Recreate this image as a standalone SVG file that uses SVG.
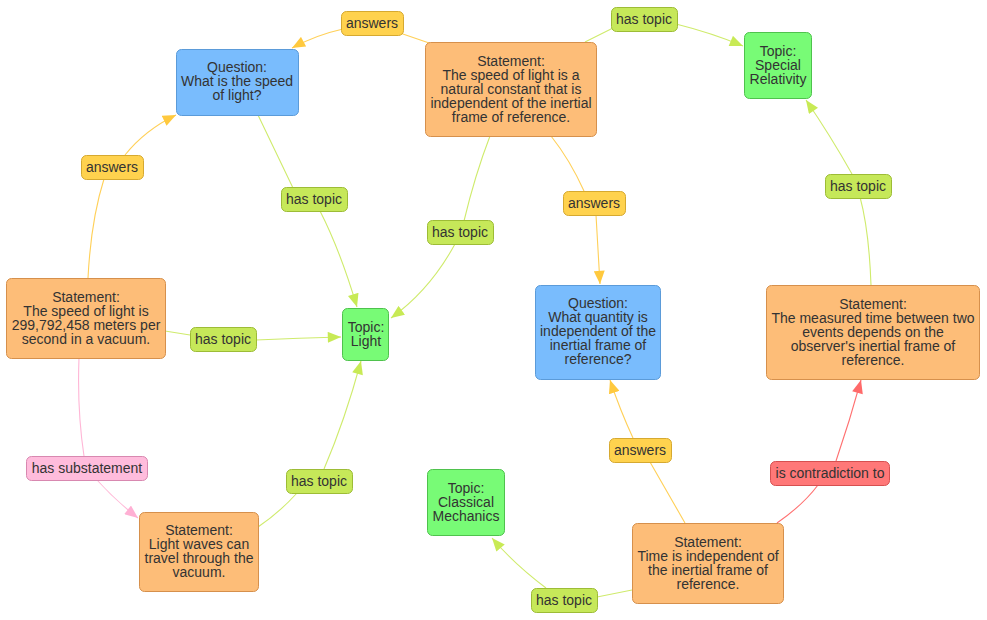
<svg xmlns="http://www.w3.org/2000/svg" width="987" height="620" viewBox="0 0 987 620">
<defs>
<style>
text{font-family:"Liberation Sans",Arial,sans-serif;font-size:14px;fill:#333;text-anchor:middle}
.q rect{fill:#79bcfd;stroke:#5b9bd9}
.s rect{fill:#fdbd78;stroke:#d6904c}
.t rect{fill:#78fb76;stroke:#4fc24d}
.ly rect{fill:#ffd24e;stroke:#d6a930}
.lg rect{fill:#c6e859;stroke:#9dbc36}
.lp rect{fill:#ffbcdc;stroke:#d888b0}
.lr rect{fill:#ff7878;stroke:#d65050}
#edges path{fill:none;stroke-width:1.1}
.ey{stroke:#ffd058;marker-end:url(#ay)}
.eg{stroke:#cfeb6c;marker-end:url(#ag)}
.ep{stroke:#ffb6d6;marker-end:url(#ap)}
.er{stroke:#ff7070;marker-end:url(#ar)}
</style>
<marker id="ay" viewBox="0 0 12 10" refX="12" refY="5" markerWidth="14" markerHeight="11" markerUnits="userSpaceOnUse" orient="auto"><path d="M0,0 L12,5 L0,10 z" fill="#ffc93e"/></marker>
<marker id="ag" viewBox="0 0 12 10" refX="12" refY="5" markerWidth="14" markerHeight="11" markerUnits="userSpaceOnUse" orient="auto"><path d="M0,0 L12,5 L0,10 z" fill="#c8ea55"/></marker>
<marker id="ap" viewBox="0 0 12 10" refX="12" refY="5" markerWidth="14" markerHeight="11" markerUnits="userSpaceOnUse" orient="auto"><path d="M0,0 L12,5 L0,10 z" fill="#ffb0d4"/></marker>
<marker id="ar" viewBox="0 0 12 10" refX="12" refY="5" markerWidth="14" markerHeight="11" markerUnits="userSpaceOnUse" orient="auto"><path d="M0,0 L12,5 L0,10 z" fill="#ff6a6a"/></marker>
</defs>
<rect width="987" height="620" fill="#fff"/>
<g id="edges">
<path class="ey" d="M432,44 L400,33 M343,29 Q316,35 292,48"/>
<path class="eg" d="M585,42 L613,28 M676,24 Q712,33 743,46"/>
<path class="ey" d="M88,278 Q91,220 104,179 M125,155 Q145,130 176,115"/>
<path class="eg" d="M258,115 L293,188 M320,211 Q340,250 357,307"/>
<path class="eg" d="M490,136 Q475,175 464,221 M455,244 Q430,290 391,318"/>
<path class="ey" d="M551,136 Q570,160 584,191 M596,215 Q598,250 600,284"/>
<path class="eg" d="M871,285 Q869,230 860,197 M852,174 Q830,135 806,100"/>
<path class="eg" d="M165,331 L190,335 M256,340 Q300,338 341,337"/>
<path class="ep" d="M79,358 Q77,410 84,456 M97,480 Q115,500 138,518"/>
<path class="eg" d="M258,527 Q280,512 297,493 M324,469 Q345,420 361,361"/>
<path class="ey" d="M685,523 L650,462 M633,438 Q620,410 610,380"/>
<path class="er" d="M777,523 Q803,505 818,485 M836,461 Q850,420 861,380"/>
<path class="eg" d="M632,590 L597,597 M546,588 Q515,565 492,538"/>
</g>
<g id="q1" class="q"><rect x="176.5" y="49.5" width="122" height="66" rx="5"/><text><tspan x="237" y="72">Question:</tspan><tspan x="237" y="86">What is the speed</tspan><tspan x="237" y="100">of light?</tspan></text></g>
<g id="s1" class="s"><rect x="425.5" y="42.5" width="171" height="94" rx="5"/><text><tspan x="511" y="66">Statement:</tspan><tspan x="511" y="80">The speed of light is a</tspan><tspan x="511" y="94">natural constant that is</tspan><tspan x="511" y="108">independent of the inertial</tspan><tspan x="511" y="122">frame of reference.</tspan></text></g>
<g id="tsr" class="t"><rect x="744.5" y="32.5" width="67" height="66" rx="5"/><text><tspan x="778" y="56">Topic:</tspan><tspan x="778" y="70">Special</tspan><tspan x="778" y="84">Relativity</tspan></text></g>
<g id="s2" class="s"><rect x="6.5" y="278.5" width="159" height="80" rx="5"/><text><tspan x="86" y="302">Statement:</tspan><tspan x="86" y="316">The speed of light is</tspan><tspan x="86" y="330">299,792,458 meters per</tspan><tspan x="86" y="344">second in a vacuum.</tspan></text></g>
<g id="tl" class="t"><rect x="342.5" y="308.5" width="46" height="52" rx="5"/><text><tspan x="366" y="332">Topic:</tspan><tspan x="366" y="346">Light</tspan></text></g>
<g id="q2" class="q"><rect x="535.5" y="285.5" width="125" height="94" rx="5"/><text><tspan x="598" y="308">Question:</tspan><tspan x="598" y="322">What quantity is</tspan><tspan x="598" y="336">independent of the</tspan><tspan x="598" y="350">inertial frame of</tspan><tspan x="598" y="364">reference?</tspan></text></g>
<g id="s3" class="s"><rect x="766.5" y="285.5" width="213" height="94" rx="5"/><text><tspan x="873" y="309">Statement:</tspan><tspan x="873" y="323">The measured time between two</tspan><tspan x="873" y="337">events depends on the</tspan><tspan x="873" y="351">observer's inertial frame of</tspan><tspan x="873" y="365">reference.</tspan></text></g>
<g id="s4" class="s"><rect x="139.5" y="512.5" width="119" height="79" rx="5"/><text><tspan x="199" y="535">Statement:</tspan><tspan x="199" y="549">Light waves can</tspan><tspan x="199" y="563">travel through the</tspan><tspan x="199" y="577">vacuum.</tspan></text></g>
<g id="tcm" class="t"><rect x="427.5" y="469.5" width="77" height="66" rx="5"/><text><tspan x="466" y="493">Topic:</tspan><tspan x="466" y="507">Classical</tspan><tspan x="466" y="521">Mechanics</tspan></text></g>
<g id="s5" class="s"><rect x="632.5" y="523.5" width="151" height="80" rx="5"/><text><tspan x="708" y="547">Statement:</tspan><tspan x="708" y="561">Time is independent of</tspan><tspan x="708" y="575">the inertial frame of</tspan><tspan x="708" y="589">reference.</tspan></text></g>
<g id="l1" class="ly"><rect x="341.5" y="11.5" width="62" height="24" rx="5"/><text x="372" y="28">answers</text></g>
<g id="l2" class="lg"><rect x="611.5" y="7.5" width="66" height="24" rx="5"/><text x="644" y="24">has topic</text></g>
<g id="l3" class="ly"><rect x="81.5" y="155.5" width="62" height="24" rx="5"/><text x="112" y="172">answers</text></g>
<g id="l4" class="lg"><rect x="281.5" y="187.5" width="66" height="24" rx="5"/><text x="314" y="204">has topic</text></g>
<g id="l5" class="lg"><rect x="427.5" y="220.5" width="66" height="24" rx="5"/><text x="460" y="237">has topic</text></g>
<g id="l6" class="ly"><rect x="563.5" y="191.5" width="62" height="24" rx="5"/><text x="594" y="208">answers</text></g>
<g id="l7" class="lg"><rect x="825.5" y="174.5" width="66" height="24" rx="5"/><text x="858" y="191">has topic</text></g>
<g id="l8" class="lg"><rect x="190.5" y="327.5" width="66" height="24" rx="5"/><text x="223" y="344">has topic</text></g>
<g id="l9" class="lp"><rect x="26.5" y="456.5" width="121" height="24" rx="5"/><text x="87" y="473">has substatement</text></g>
<g id="l10" class="lg"><rect x="286.5" y="469.5" width="66" height="24" rx="5"/><text x="319" y="486">has topic</text></g>
<g id="l11" class="ly"><rect x="609.5" y="438.5" width="62" height="24" rx="5"/><text x="640" y="455">answers</text></g>
<g id="l12" class="lr"><rect x="770.5" y="461.5" width="119" height="24" rx="5"/><text x="830" y="478">is contradiction to</text></g>
<g id="l13" class="lg"><rect x="531.5" y="588.5" width="66" height="24" rx="5"/><text x="564" y="605">has topic</text></g>
</svg>
